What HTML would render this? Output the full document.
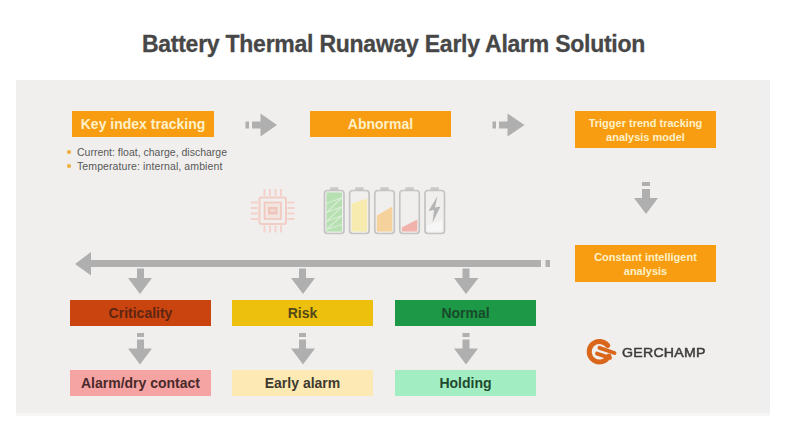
<!DOCTYPE html>
<html><head><meta charset="utf-8">
<style>
html,body{margin:0;padding:0;width:791px;height:439px;overflow:hidden;background:#fff;}
body{position:relative;font-family:"Liberation Sans",sans-serif;}
.a{position:absolute;}
#title{left:-2px;width:791px;top:31.5px;text-align:center;font-size:23px;font-weight:bold;color:#474747;letter-spacing:-0.25px;-webkit-text-stroke:0.3px #474747;white-space:nowrap;line-height:24px;}
#panel{left:16px;top:80px;width:747px;height:333px;background:#f0efed;box-shadow:7px 0 0 #efefef, 7px 3px 0 #f6f6f6, 0 3px 0 #f6f6f6;}
.box{position:absolute;display:flex;align-items:center;justify-content:center;text-align:center;font-weight:bold;white-space:nowrap;}
.or{background:#f89c12;color:#fff1c8;}
.t14{font-size:14px;}
.t11{font-size:11px;line-height:14px;}
.bul{position:absolute;font-size:10.5px;color:#585858;white-space:nowrap;line-height:14px;}
.dot{position:absolute;width:3.5px;height:3.5px;background:#eeb040;border-radius:50%;}
</style></head>
<body>
<div id="title" class="a">Battery Thermal Runaway Early Alarm Solution</div>
<div id="panel" class="a"></div>

<div class="box or t14" style="left:72px;top:111px;width:142px;height:26px;">Key index tracking</div>
<div class="dot" style="left:67px;top:150px;"></div>
<div class="bul" style="left:77px;top:145px;">Current: float, charge, discharge</div>
<div class="dot" style="left:67px;top:164px;"></div>
<div class="bul" style="left:77px;top:159px;letter-spacing:0.1px;">Temperature: internal, ambient</div>

<div class="box or t14" style="left:310px;top:111px;width:141px;height:26px;">Abnormal</div>
<div class="box or t11" style="left:575px;top:111px;width:141px;height:37px;">Trigger trend tracking<br>analysis model</div>
<div class="box or t11" style="left:575px;top:245px;width:141px;height:37px;">Constant intelligent<br>analysis</div>

<svg class="a" style="left:0;top:0" width="791" height="439">
  <g fill="#afafaf">
    <!-- right arrows -->
    <rect x="245.5" y="121.5" width="3.5" height="7"/>
    <rect x="252" y="121.5" width="9" height="7"/>
    <polygon points="260.5,113.5 277,125 260.5,136.5"/>
    <rect x="492.5" y="121.5" width="3.5" height="7"/>
    <rect x="499" y="121.5" width="9" height="7"/>
    <polygon points="507.5,113.5 524.5,125 507.5,136.5"/>
    <!-- down arrow right column -->
    <rect x="642" y="182" width="8" height="4"/>
    <rect x="642" y="189" width="8" height="9.5"/>
    <polygon points="634,198 658,198 646,214"/>
    <!-- big left arrow -->
    <rect x="90" y="260" width="451" height="7"/>
    <rect x="545.5" y="260" width="4.5" height="7"/>
    <polygon points="75,264 91,252 91,275.5"/>
    <!-- down arrows from big arrow -->
    <rect x="137" y="268.5" width="7" height="10"/>
    <polygon points="128,278 152,278 140,294"/>
    <rect x="299" y="268.5" width="7" height="10"/>
    <polygon points="291,278 315,278 303,294"/>
    <rect x="462.5" y="268.5" width="7" height="10"/>
    <polygon points="454,278 478.5,278 466,294"/>
    <!-- down arrows between rows -->
    <rect x="137" y="333" width="7" height="4"/>
    <rect x="137" y="339.5" width="7" height="10"/>
    <polygon points="128,348.5 152,348.5 140,364.5"/>
    <rect x="299" y="333" width="7" height="4"/>
    <rect x="299" y="339.5" width="7" height="10"/>
    <polygon points="291,348.5 315,348.5 303,364.5"/>
    <rect x="462.5" y="333" width="7" height="4"/>
    <rect x="462.5" y="339.5" width="7" height="10"/>
    <polygon points="454,348.5 478,348.5 466,364.5"/>
  </g>
</svg>

<div class="box t14" style="left:70px;top:300px;width:141px;height:26px;background:#c9440e;color:#5e2614;">Criticality</div>
<div class="box t14" style="left:232px;top:300px;width:141px;height:26px;background:#ecc00c;color:#55481a;">Risk</div>
<div class="box t14" style="left:395px;top:300px;width:141px;height:26px;background:#1d9847;color:#174a2a;">Normal</div>
<div class="box t14" style="left:70px;top:370px;width:141px;height:26px;background:#f5a3a3;color:#4a2a2a;">Alarm/dry contact</div>
<div class="box t14" style="left:232px;top:370px;width:141px;height:26px;background:#fde9b3;color:#3e3a30;">Early alarm</div>
<div class="box t14" style="left:395px;top:370px;width:141px;height:26px;background:#a2eec2;color:#1f4a30;">Holding</div>

<!-- chip + batteries -->
<svg class="a" style="left:0;top:0" width="791" height="439">
    <defs><filter id="bl" x="-10%" y="-10%" width="120%" height="120%"><feGaussianBlur stdDeviation="0.45"/></filter></defs>
    <g filter="url(#bl)">
    <rect x="259.5" y="197.5" width="26.5" height="26.5" rx="2" fill="none" stroke="#f2cdc6" stroke-width="2"/>
    <rect x="264.5" y="202.5" width="16.5" height="16.5" fill="#f2e4df" stroke="#f0c6be" stroke-width="1.6"/>
    <rect x="268" y="207" width="9.5" height="7.5" fill="#eec4bb"/><rect x="270" y="209.5" width="5.5" height="2" fill="#f3dcd5"/>
    <rect x="263.5" y="189" width="2" height="7" fill="#f2d2ca"/>
    <rect x="263.5" y="225.5" width="2" height="7" fill="#f2d2ca"/>
    <rect x="251" y="201.5" width="7" height="2" fill="#f2d2ca"/>
    <rect x="287.5" y="201.5" width="7" height="2" fill="#f2d2ca"/>
    <rect x="269.0" y="189" width="2" height="7" fill="#f2d2ca"/>
    <rect x="269.0" y="225.5" width="2" height="7" fill="#f2d2ca"/>
    <rect x="251" y="207.0" width="7" height="2" fill="#f2d2ca"/>
    <rect x="287.5" y="207.0" width="7" height="2" fill="#f2d2ca"/>
    <rect x="274.5" y="189" width="2" height="7" fill="#f2d2ca"/>
    <rect x="274.5" y="225.5" width="2" height="7" fill="#f2d2ca"/>
    <rect x="251" y="212.5" width="7" height="2" fill="#f2d2ca"/>
    <rect x="287.5" y="212.5" width="7" height="2" fill="#f2d2ca"/>
    <rect x="280.0" y="189" width="2" height="7" fill="#f2d2ca"/>
    <rect x="280.0" y="225.5" width="2" height="7" fill="#f2d2ca"/>
    <rect x="251" y="218.0" width="7" height="2" fill="#f2d2ca"/>
    <rect x="287.5" y="218.0" width="7" height="2" fill="#f2d2ca"/>
    <rect x="330.0" y="187.3" width="8.5" height="2.8" rx="0.8" fill="#c9c9c9"/>
    <rect x="326.5" y="192.5" width="15.5" height="39.0" fill="#b6dfb2"/>
    <polyline points="326.5,203.5 342.0,197.5 326.5,212.5 342.0,206.5 326.5,221.5 342.0,215.5 326.5,229.5 342.0,224.5" fill="none" stroke="#d8eed4" stroke-width="1.1"/>
    <rect x="324.5" y="190.5" width="19.5" height="43.0" rx="3" fill="none" stroke="#c4c4c4" stroke-width="1.7"/>
    <rect x="355.1" y="187.3" width="8.5" height="2.8" rx="0.8" fill="#c9c9c9"/>
    <polygon points="351.6,203.5 367.1,198.5 367.1,231.5 351.6,231.5" fill="#f8ebb0"/>
    <rect x="349.6" y="190.5" width="19.5" height="43.0" rx="3" fill="none" stroke="#c4c4c4" stroke-width="1.7"/>
    <rect x="380.3" y="187.3" width="8.5" height="2.8" rx="0.8" fill="#c9c9c9"/>
    <polygon points="376.8,215.5 392.3,206.5 392.3,231.5 376.8,231.5" fill="#f5d29c"/>
    <rect x="374.8" y="190.5" width="19.5" height="43.0" rx="3" fill="none" stroke="#c4c4c4" stroke-width="1.7"/>
    <rect x="405.3" y="187.3" width="8.5" height="2.8" rx="0.8" fill="#c9c9c9"/>
    <polygon points="401.8,227.5 417.3,219.5 417.3,231.5 401.8,231.5" fill="#f0b2ab"/>
    <rect x="399.8" y="190.5" width="19.5" height="43.0" rx="3" fill="none" stroke="#c4c4c4" stroke-width="1.7"/>
    <rect x="430.5" y="187.3" width="8.5" height="2.8" rx="0.8" fill="#c9c9c9"/>
    <polygon points="427,225.5 442.5,219.5 442.5,231.5 427,231.5" fill="#f6f6f6"/>
    <polygon points="437.5,196 428.5,211 434,210 432.5,222.5 440.5,206.5 435,207.5" fill="#b5b5b5"/>
    <rect x="425" y="190.5" width="19.5" height="43.0" rx="3" fill="none" stroke="#c4c4c4" stroke-width="1.7"/>
    </g>
    <g stroke="#d9661b" fill="none" stroke-linecap="round">
    <path d="M607.73,345.50 A10.3,10.3 0 1 0 608.83,356.05" stroke-width="5"/>
    <line x1="599.5" y1="347.8" x2="614.5" y2="353" stroke-width="3.9"/>
    <line x1="597" y1="353.6" x2="610" y2="357.8" stroke-width="3.9"/>
    </g>
</svg>

<!-- logo -->
<div class="a" style="left:622px;top:345px;font-size:12px;font-weight:normal;-webkit-text-stroke:0.45px #3c3c3c;color:#3c3c3c;letter-spacing:0.2px;line-height:16px;white-space:nowrap;transform:scaleX(1.18);transform-origin:0 0;">GERCHAMP</div>
</body></html>
